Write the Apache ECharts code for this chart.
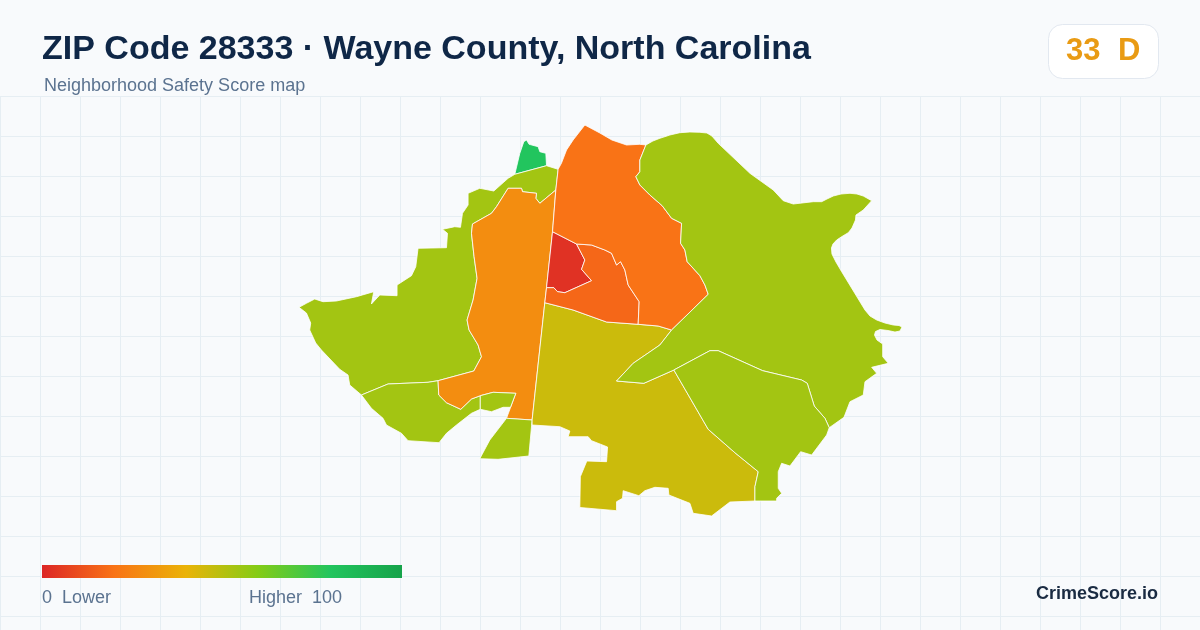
<!DOCTYPE html>
<html lang="en">
<head>
    <meta charset="UTF-8">
    <title>ZIP Code 28333 Neighborhood Safety Score map</title>
    <script src="https://cdn.jsdelivr.net/npm/echarts@6/dist/echarts.min.js"></script>
    <style>
        html, body { margin: 0; padding: 0; background: #f8fafc; }
        #main { width: 1200px; height: 630px; }
    </style>
</head>
<body>
<div id="main"></div>
<script>
    // scores per neighborhood
    var regionNames = ['north-sliver', 'west', 'southwest', 'central-band', 'inlet', 'south-tip', 'south-central', 'core', 'inner-ring', 'north', 'east', 'southeast'];
    var regionScores = [80, 54, 54, 28, 54, 54, 46, 3, 17, 20, 54, 54];

    // legend colour stops, lower to higher
    var scaleColors = ['#dc2626', '#f97316', '#eab308', '#84cc16', '#22c55e', '#16a34a'];
    var scaleMin = 0;
    var scaleMax = 100;

    // outlines, in map units
    var northSliver = [[515,174.3],[520,153.3],[524,141.7],[526.7,140],[529.3,144.3],[538.3,146.7],[540,151.7],[546,153.3],[546.7,165.7]];
    var west = [[299.3,307.3],[306.7,303.3],[315,299],[323.3,301.7],[336.7,301],[356.7,296.7],[374,291.7],[371.7,304],[380,295],[397.3,295.7],[397.3,285],[411.7,275.7],[416,266.7],[418.3,248.3],[446.7,247.7],[447.7,233.3],[442.7,229.3],[455,226.7],[460.7,227.3],[462.7,213.3],[468.3,205],[468.3,193.3],[480,188.3],[494,191],[508.3,178.3],[515,174.3],[546.7,165.7],[558.3,169.3],[556,190],[540,203.3],[536,198.3],[536.7,193.3],[522.7,191.7],[521.7,188.3],[508.3,188.3],[496.7,206.7],[491.7,213.3],[472.7,224],[471.7,233.3],[474.3,256.7],[477.3,278.3],[473.3,300],[467.3,320],[469.3,330],[478.3,345],[481.7,356.7],[474,371],[438.3,380.7],[428.3,382.3],[388.3,384],[361.7,395],[350,385],[348.3,375],[340,369.3],[321.7,350],[316,343],[310,330],[311,323],[306.7,313]];
    var southwest = [[361.7,395],[388.3,384],[428.3,382.3],[438.3,380.7],[439,395],[446.7,402.7],[461,409.3],[471.7,399],[480.5,395.7],[480.5,409.3],[471.7,413.3],[456.7,425],[446.7,433.3],[439.3,442.7],[408.3,440.7],[401.7,433.3],[386.7,425],[383.3,418.3],[371.7,408.3]];
    var centralBand = [[508.3,188.3],[521.7,188.3],[522.7,191.7],[536.7,193.3],[536,198.3],[540,203.3],[556,190],[552.7,231.7],[546.7,287.7],[545,302.7],[532.3,420],[506.7,418.3],[516,393.3],[493.3,392.3],[480.5,395.7],[471.7,399],[461,409.3],[446.7,402.7],[439,395],[438.3,380.7],[474,371],[481.7,356.7],[478.3,345],[469.3,330],[467.3,320],[473.3,300],[477.3,278.3],[474.3,256.7],[471.7,233.3],[472.7,224],[491.7,213.3],[496.7,206.7]];
    var inlet = [[480.5,395.7],[493.3,392.3],[516,393.3],[510.7,407.3],[503.3,407.3],[491.7,411.7],[480.5,409.3]];
    var southTip = [[506.7,418.3],[532.3,420],[529,456],[498.3,459.3],[480,458.7],[490,440]];
    var southCentral = [[545,302.7],[573.3,310],[606.7,322],[638.3,324.3],[658.3,326],[671.7,330],[660,345],[633.3,363.3],[616.7,381],[644,383.3],[674,370],[708.3,429.3],[735,452.7],[758.3,471.7],[755,486.7],[755,501],[730,502],[711.7,516],[693.3,513.3],[690,503.3],[669,495],[668.3,488.3],[655,487.3],[645,490.7],[639,495.7],[623.3,490.7],[622.7,498.3],[616.7,501.7],[616.7,510.7],[580,507.5],[580.5,476.7],[587,461],[606.7,461.7],[607.7,447],[591.7,440.7],[588.3,436.7],[568.3,436.7],[570,431],[560,426.7],[532.3,425],[532.3,420]];
    var core = [[552.7,231.7],[576.7,244],[585,260],[581.7,269.3],[591.7,280.7],[565,292.7],[557.7,291.7],[554,287.7],[546.7,287.7]];
    var innerRing = [[576.7,244],[591.7,245],[605,250],[611.7,253.3],[616.7,265],[620.7,261.7],[625,270],[628.3,285],[639.3,301.7],[638.3,324.3],[606.7,322],[573.3,310],[545,302.7],[546.7,287.7],[554,287.7],[557.7,291.7],[565,292.7],[591.7,280.7],[581.7,269.3],[585,260]];
    var north = [[585,125],[600,133],[612,140],[626.7,145],[640,144.3],[646,145],[640,160],[640,171.7],[636,176.7],[640,185],[650,195],[662.3,205.7],[671.7,218.3],[681.7,223.3],[680.7,243.3],[685,250],[687.3,261.7],[700,275.7],[705,285],[708.3,294.3],[671.7,330],[658.3,326],[638.3,324.3],[639.3,301.7],[628.3,285],[625,270],[620.7,261.7],[616.7,265],[611.7,253.3],[605,250],[591.7,245],[576.7,244],[552.7,231.7],[556,190],[558.3,169.3],[561.7,163],[566.7,150],[573.3,140]];
    var east = [[646,145],[653,141],[660,138.3],[670,135],[680,132.7],[690,132],[700,132.3],[707,133],[712,136],[718.3,143.3],[750,173.3],[773.3,190],[783.3,200.7],[793.3,204],[813.3,201.7],[821.7,201.7],[827,199],[833.3,196],[841,194],[850,193.3],[857,194],[863.3,196],[871.7,200.7],[863.3,210],[856,215],[855.5,220],[852,228],[848.3,232.7],[842,236.5],[836.7,240],[833,244],[831.5,248],[832,254],[836,262],[841.7,271.7],[865,310],[870,316],[876.7,320],[885,323],[893.3,325],[899,325.5],[902,327],[900,331],[895,332],[888,330.5],[880,329.5],[875.5,331.5],[874.5,335],[877,340],[882.7,344],[882.7,356.7],[888.3,363.3],[871.7,367.3],[876.7,373.3],[865,381.7],[863.3,395],[850,401.7],[844,417.3],[829.3,427.7],[825,418.3],[814.3,406],[807.3,383.3],[801.7,380],[762.7,370.7],[718.3,350.7],[710,350.7],[674,370],[644,383.3],[616.7,381],[633.3,363.3],[660,345],[671.7,330],[708.3,294.3],[705,285],[700,275.7],[687.3,261.7],[685,250],[680.7,243.3],[681.7,223.3],[671.7,218.3],[662.3,205.7],[650,195],[640,185],[636,176.7],[640,171.7],[640,160]];
    var southeast = [[674,370],[710,350.7],[718.3,350.7],[762.7,370.7],[801.7,380],[807.3,383.3],[814.3,406],[825,418.3],[829.3,427.7],[826.7,435],[811.7,455],[800.7,451.7],[790,466],[781.7,463.3],[778.3,471.7],[778.3,488.3],[781.7,493.3],[776.7,498.3],[776.7,501],[755,501],[755,486.7],[758.3,471.7],[735,452.7],[708.3,429.3]];
    var regionRings = [northSliver, west, southwest, centralBand, inlet, southTip, southCentral, core, innerRing, north, east, southeast];

    var geoJson = {
        type: 'FeatureCollection',
        features: regionNames.map(function (name, i) {
            return {
                type: 'Feature',
                properties: { name: name },
                geometry: { type: 'Polygon', coordinates: [regionRings[i].concat([regionRings[i][0]])] }
            };
        })
    };
    echarts.registerMap('zip28333', geoJson);

    var FONT = '"Liberation Sans", Arial, sans-serif';
    var myChart = echarts.init(document.getElementById('main'));

    myChart.setOption({
        backgroundColor: '#f8fafc',
        animation: false,
        title: [
            {
                text: 'ZIP Code 28333 · Wayne County, North Carolina',
                left: 42, top: 33, padding: 0,
                textStyle: { color: '#0f2747', fontFamily: FONT, fontSize: 34, fontWeight: 'bold' }
            },
            {
                text: 'Neighborhood Safety Score map',
                left: 44, top: 77, padding: 0,
                textStyle: { color: '#5b7390', fontFamily: FONT, fontSize: 18, fontWeight: 'normal' }
            },
            {
                text: '0  Lower',
                left: 42, top: 589, padding: 0,
                textStyle: { color: '#5b7390', fontFamily: FONT, fontSize: 18, fontWeight: 'normal' }
            },
            {
                text: 'Higher  100',
                left: 249, top: 589, padding: 0,
                textStyle: { color: '#5b7390', fontFamily: FONT, fontSize: 18, fontWeight: 'normal' }
            },
            {
                text: 'CrimeScore.io',
                right: 42, top: 585, padding: 0,
                textStyle: { color: '#1a2b42', fontFamily: FONT, fontSize: 18, fontWeight: 'bold' }
            }
        ],
        // faint map-paper grid behind the shapes
        grid: { left: 0, top: 96, width: 1200, height: 534 },
        xAxis: {
            type: 'value', min: 0, max: 1200, interval: 40,
            axisLine: { show: false }, axisTick: { show: false }, axisLabel: { show: false },
            splitLine: { show: true, lineStyle: { color: '#e6eef3', width: 1 } }
        },
        yAxis: {
            type: 'value', min: 0, max: 534, interval: 40, inverse: true,
            axisLine: { show: false }, axisTick: { show: false }, axisLabel: { show: false },
            splitLine: { show: true, lineStyle: { color: '#e6eef3', width: 1 } }
        },
        visualMap: {
            type: 'continuous',
            min: scaleMin,
            max: scaleMax,
            show: false,
            inRange: { color: scaleColors }
        },
        series: [
            {
                type: 'map',
                map: 'zip28333',
                projection: {
                    project: function (p) { return p; },
                    unproject: function (p) { return p; }
                },
                left: 299, top: 125, width: 603, height: 391,
                roam: false,
                selectedMode: false,
                silent: true,
                label: { show: false },
                itemStyle: { borderColor: '#ffffff', borderWidth: 0.8 },
                data: regionNames.map(function (name, i) {
                    return { name: name, value: regionScores[i] };
                })
            }
        ],
        graphic: [
            {
                // square-cornered legend bar, same stops as the visualMap
                type: 'rect', left: 42, top: 565, z: 10,
                shape: { width: 360, height: 13 },
                style: {
                    fill: new echarts.graphic.LinearGradient(0, 0, 1, 0, scaleColors.map(function (c, i) {
                        return { offset: i / (scaleColors.length - 1), color: c };
                    }))
                }
            },
            {
                type: 'rect', left: 1048, top: 24, z: 10,
                shape: { width: 110, height: 54, r: 14 },
                style: { fill: '#ffffff', stroke: '#e2e8f0', lineWidth: 1 }
            },
            {
                type: 'text', left: 1066, top: 36, z: 11,
                style: { text: '33', fill: '#e99b14', font: 'bold 31px ' + FONT }
            },
            {
                type: 'text', left: 1118, top: 36, z: 11,
                style: { text: 'D', fill: '#e99b14', font: 'bold 31px ' + FONT }
            }
        ]
    });
</script>
</body>
</html>
